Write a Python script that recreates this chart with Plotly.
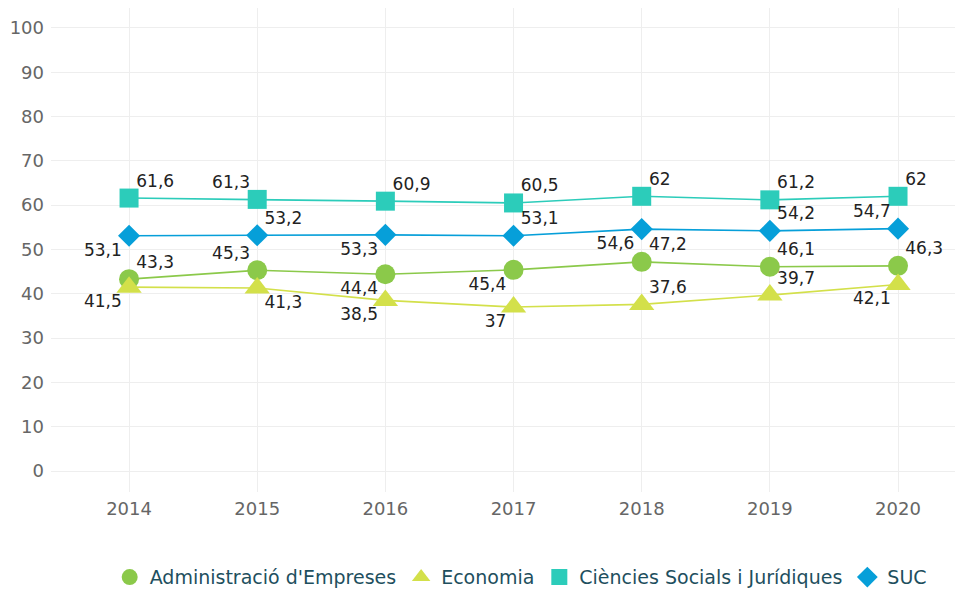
import plotly.graph_objects as go

years = [2014, 2015, 2016, 2017, 2018, 2019, 2020]
admin = [43.3, 45.3, 44.4, 45.4, 47.2, 46.1, 46.3]
econ = [41.5, 41.3, 38.5, 37.0, 37.6, 39.7, 42.1]
ciencies = [61.6, 61.3, 60.9, 60.5, 62.0, 61.2, 62.0]
suc = [53.1, 53.2, 53.3, 53.1, 54.6, 54.2, 54.7]

names = ["Administració d'Empreses", "Economia", "Ciències Socials i Jurídiques", "SUC"]
colors = ["#8BC94A", "#D3E04A", "#2CCCBA", "#069FD9"]
symbols = ["circle", "triangle-up", "square", "diamond"]
sizes = [20, 22, 19, 17]
positions = [
    ["top right", "top left", "bottom left", "bottom left", "top right", "top right", "top right"],
    ["bottom left", "bottom right", "bottom left", "bottom left", "top right", "top right", "bottom left"],
    ["top right", "top left", "top right", "top right", "top right", "top right", "top right"],
    ["bottom left", "top right", "bottom left", "top right", "bottom left", "top right", "top left"],
]

FONT = "DejaVu Sans"

def fmt(v):
    return f"{v:g}".replace(".", ",")

fig = go.Figure()
series = [admin, econ, ciencies, suc]
for vals, name, col, sym, sz, pos in zip(series, names, colors, symbols, sizes, positions):
    fig.add_trace(go.Scatter(
        x=years, y=vals, mode="lines", showlegend=False, hoverinfo="skip",
        line=dict(color=col, width=1.6), legendgroup=name,
    ))
    fig.add_trace(go.Scatter(
        x=years, y=vals, name=name, mode="markers", legendgroup=name,
        marker=dict(color=col, symbol=sym, size=sz, line=dict(width=0)),
        cliponaxis=False,
    ))
for vals, name, pos in zip(series, names, positions):
    fig.add_trace(go.Scatter(
        x=years, y=vals, mode="markers+text", showlegend=False, hoverinfo="skip",
        legendgroup=name,
        marker=dict(color="rgba(0,0,0,0)", size=10, line=dict(width=0)),
        text=[fmt(v) for v in vals], textposition=pos,
        textfont=dict(family=FONT, size=17, color="#222222"),
        cliponaxis=False,
    ))

fig.update_layout(
    width=955, height=583,
    margin=dict(l=43, r=0, t=0, b=99, autoexpand=False),
    paper_bgcolor="white", plot_bgcolor="white",
    font=dict(family=FONT),
    showlegend=True,
    legend=dict(orientation="h", x=0.515, xanchor="center", y=-0.176, yanchor="middle",
                font=dict(family=FONT, size=19, color="#1E4F5E"), itemwidth=30,
                itemsizing="trace", traceorder="normal"),
    xaxis=dict(range=[2013.391, 2020.507], tickvals=years, ticktext=[str(y) for y in years],
               showgrid=True, gridcolor="#EEEEEE", gridwidth=1, zeroline=False,
               showline=False, ticks="", ticklabelstandoff=4,
               tickfont=dict(family=FONT, size=18, color="#666666")),
    yaxis=dict(range=[-4.74, 104.5], tickvals=list(range(0, 101, 10)),
               showgrid=True, gridcolor="#EEEEEE", gridwidth=1, zeroline=False,
               showline=False, ticks="", ticklabelstandoff=6,
               tickfont=dict(family=FONT, size=18, color="#666666")),
)

fig.write_html("out.html")
